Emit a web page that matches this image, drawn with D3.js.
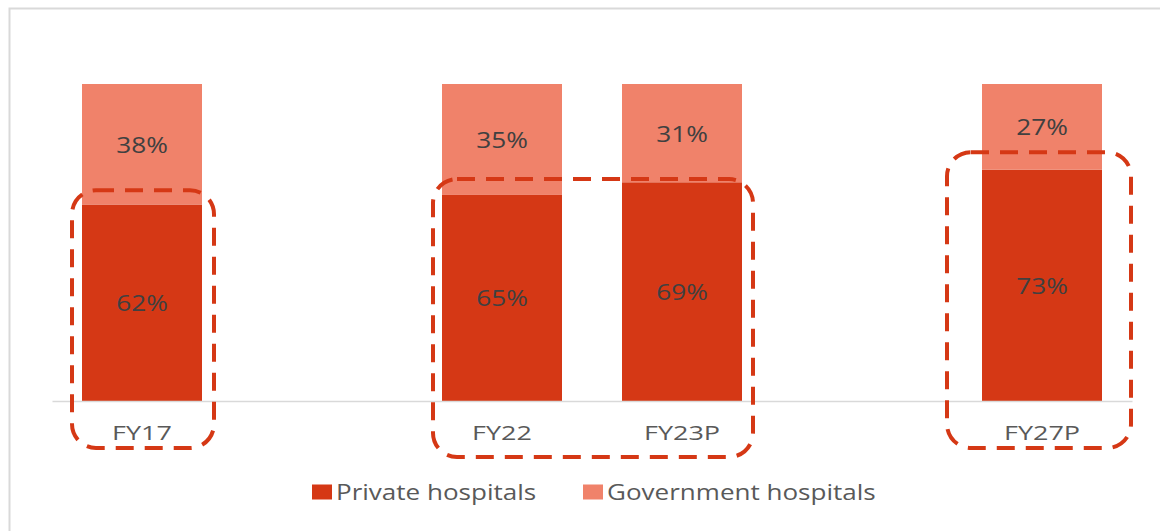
<!DOCTYPE html>
<html>
<head>
<meta charset="utf-8">
<script src="https://cdn.jsdelivr.net/npm/d3@7"></script>
<style>
  body { margin: 0; background: #fff; }
  svg { display: block; font-family: "Open Sans", sans-serif; }
</style>
</head>
<body>
<div id="chart"></div>
<script>
// slots on the x axis, "_" entries are empty spacers
var slots = ["FY17", "_gap1", "FY22", "FY23P", "_gap2", "FY27P"];
var categories = ["FY17", "FY22", "FY23P", "FY27P"];
var privateShare = [62, 65, 69, 73];
var govtShare = [38, 35, 31, 27];
var seriesNames = ["Private hospitals", "Government hospitals"];

// dashed highlight boxes: first/last category and the level of their top edge
var highlightFrom = ["FY17", "FY22", "FY27P"];
var highlightTo = ["FY17", "FY23P", "FY27P"];
var highlightTop = [66.5, 70, 78.5];

var width = 1160, height = 531;
var privColor = "#d53815", govColor = "#f0826a";
var stretch = 1.25; // the source picture is a bit wider than tall

var svg = d3.select("#chart").append("svg")
    .attr("width", width)
    .attr("height", height);

// outer frame
svg.append("rect")
    .attr("x", 9.5).attr("y", 8.5)
    .attr("width", width).attr("height", height)
    .attr("fill", "none")
    .attr("stroke", "#d9d9d9")
    .attr("stroke-width", 2);

var x = d3.scaleBand()
    .domain(slots)
    .range([52, 1132])
    .paddingInner(1 / 3)
    .paddingOuter(1 / 6);

var y = d3.scaleLinear()
    .domain([0, 100])
    .range([401, 84]);

var rows = categories.map(function (c, i) {
    return { cat: c, priv: privateShare[i], gov: govtShare[i] };
});

// private segment
svg.selectAll(".priv")
    .data(rows)
    .enter()
    .append("rect")
    .attr("class", "priv")
    .attr("x", function (d) { return x(d.cat); })
    .attr("y", function (d) { return y(d.priv); })
    .attr("width", x.bandwidth())
    .attr("height", function (d) { return y(0) - y(d.priv); })
    .attr("fill", privColor);

// government segment on top
svg.selectAll(".gov")
    .data(rows)
    .enter()
    .append("rect")
    .attr("class", "gov")
    .attr("x", function (d) { return x(d.cat); })
    .attr("y", function (d) { return y(d.priv + d.gov); })
    .attr("width", x.bandwidth())
    .attr("height", function (d) { return y(d.priv) - y(d.priv + d.gov); })
    .attr("fill", govColor);

// value labels
function valueLabels(cls, mid, val) {
    svg.selectAll("." + cls)
        .data(rows)
        .enter()
        .append("text")
        .attr("class", cls)
        .attr("transform", function (d) {
            return "translate(" + (x(d.cat) + x.bandwidth() / 2) + "," + y(mid(d)) + ") scale(" + stretch + ",1)";
        })
        .attr("dy", "0.4em")
        .attr("text-anchor", "middle")
        .style("fill", "#404040")
        .style("font-size", "21px")
        .text(function (d) { return val(d) + "%"; });
}
valueLabels("lblPriv", function (d) { return d.priv / 2; }, function (d) { return d.priv; });
valueLabels("lblGov", function (d) { return d.priv + d.gov / 2; }, function (d) { return d.gov; });

// x axis
var xAxis = d3.axisBottom(x)
    .tickSize(0)
    .tickPadding(25)
    .tickFormat(function (d) { return d.charAt(0) == "_" ? "" : d; });

var gx = svg.append("g")
    .attr("transform", "translate(0," + y(0) + ")")
    .call(xAxis);
gx.select(".domain").attr("stroke", "#d9d9d9").attr("stroke-width", 1.5);
gx.selectAll("text")
    .attr("transform", "scale(1.35,1)")
    .attr("x", 0)
    .style("font-family", "Open Sans, sans-serif")
    .style("font-size", "20px")
    .style("fill", "#595959");

// dashed highlight boxes
var boxes = highlightFrom.map(function (f, i) {
    return { from: f, to: highlightTo[i], top: highlightTop[i] };
});
var padL = [10, 9, 35], padR = [12, 11, 29], below = [47, 56, 47];

svg.selectAll(".hl")
    .data(boxes)
    .enter()
    .append("rect")
    .attr("class", "hl")
    .attr("x", function (d, i) { return x(d.from) - padL[i]; })
    .attr("y", function (d) { return y(d.top); })
    .attr("width", function (d, i) {
        return x(d.to) + x.bandwidth() + padR[i] - (x(d.from) - padL[i]);
    })
    .attr("height", function (d, i) { return y(0) + below[i] - y(d.top); })
    .attr("rx", 24)
    .attr("fill", "none")
    .attr("stroke", privColor)
    .attr("stroke-width", 4)
    .attr("stroke-dasharray", "18,11");

// legend
var legend = svg.append("g").attr("transform", "translate(312,492)");
var legX = [0, 271];
var legColors = [privColor, govColor];
seriesNames.forEach(function (name, i) {
    var g = legend.append("g").attr("transform", "translate(" + legX[i] + ",0)");
    g.append("rect")
        .attr("x", 0).attr("y", -7.5)
        .attr("width", 20).attr("height", 15)
        .attr("fill", legColors[i]);
    g.append("text")
        .attr("transform", "translate(24,0) scale(1.24,1)")
        .attr("dy", "0.36em")
        .style("fill", "#595959")
        .style("font-size", "21px")
        .text(name);
});
</script>
</body>
</html>
